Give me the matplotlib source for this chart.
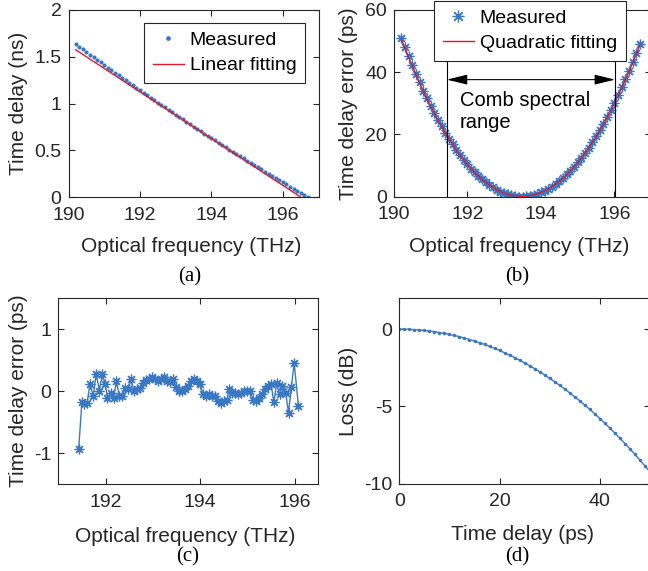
import matplotlib
matplotlib.use('Agg')
import matplotlib.pyplot as plt
import numpy as np

# (a) measured time delay vs optical frequency
freq_a = [190.2, 190.3, 190.4, 190.5, 190.6, 190.7, 190.8, 190.9, 191.0, 191.1,
          191.2, 191.3, 191.4, 191.5, 191.6, 191.7, 191.8, 191.9, 192.0, 192.1,
          192.2, 192.3, 192.4, 192.5, 192.6, 192.7, 192.8, 192.9, 193.0, 193.1,
          193.2, 193.3, 193.4, 193.5, 193.6, 193.7, 193.8, 193.9, 194.0, 194.1,
          194.2, 194.3, 194.4, 194.5, 194.6, 194.7, 194.8, 194.9, 195.0, 195.1,
          195.2, 195.3, 195.4, 195.5, 195.6, 195.7, 195.8, 195.9, 196.0, 196.1,
          196.2, 196.3, 196.4, 196.5, 196.6, 196.7]
delay_meas = [1.634, 1.606, 1.578, 1.550, 1.522, 1.494, 1.466, 1.439, 1.411, 1.384,
              1.357, 1.329, 1.302, 1.275, 1.248, 1.221, 1.195, 1.168, 1.141, 1.115,
              1.088, 1.062, 1.036, 1.010, 0.984, 0.958, 0.932, 0.906, 0.881, 0.855,
              0.830, 0.805, 0.779, 0.754, 0.729, 0.704, 0.679, 0.655, 0.630, 0.605,
              0.581, 0.557, 0.532, 0.508, 0.484, 0.460, 0.436, 0.412, 0.389, 0.365,
              0.341, 0.318, 0.295, 0.271, 0.248, 0.225, 0.202, 0.179, 0.157, 0.134,
              0.111, 0.089, 0.066, 0.044, 0.022, 0.000]
freq_lin = [190.2, 196.5]
delay_lin = [1.575, 0.0]

# (b) time delay error (ps) and quadratic fit
err_meas = [51.1, 48.0, 45.1, 42.2, 39.4, 36.7, 34.1, 31.6, 29.2, 26.9,
            24.7, 22.6, 20.5, 18.6, 16.8, 15.0, 13.4, 11.9, 10.4, 9.0,
            7.8, 6.6, 5.5, 4.6, 3.7, 2.9, 2.2, 1.6, 1.1, 0.7,
            0.4, 0.2, 0.0, 0.0, 0.1, 0.2, 0.5, 0.8, 1.3, 1.8,
            2.5, 3.2, 4.0, 4.9, 6.0, 7.1, 8.3, 9.6, 11.0, 12.5,
            14.1, 15.7, 17.5, 19.4, 21.3, 23.4, 25.6, 27.8, 30.2, 32.6,
            35.1, 37.8, 40.5, 43.3, 46.2, 49.2]
err_fit = [50.6, 47.7, 44.8, 42.0, 39.2, 36.5, 33.9, 31.4, 29.0, 26.7,
           24.5, 22.4, 20.4, 18.5, 16.7, 14.9, 13.3, 11.8, 10.3, 9.0,
           7.7, 6.6, 5.5, 4.5, 3.7, 2.9, 2.2, 1.6, 1.1, 0.7,
           0.4, 0.2, 0.1, 0.0, 0.1, 0.3, 0.5, 0.9, 1.3, 1.8,
           2.5, 3.2, 4.0, 4.9, 5.9, 7.0, 8.2, 9.5, 10.9, 12.4,
           14.0, 15.6, 17.4, 19.2, 21.2, 23.2, 25.4, 27.6, 30.0, 32.4,
           34.9, 37.5, 40.2, 43.0, 45.9, 48.8]
comb_range = [191.44, 196.02]
arrow_y = 37.6
vline_top = 50

# (c) residual time delay error within the comb range
freq_c = [191.43, 191.50, 191.55, 191.61, 191.67, 191.74, 191.80, 191.87, 191.93, 191.99,
          192.04, 192.11, 192.17, 192.23, 192.29, 192.35, 192.42, 192.48, 192.54, 192.60,
          192.66, 192.73, 192.79, 192.85, 192.92, 192.98, 193.04, 193.11, 193.17, 193.23,
          193.30, 193.36, 193.43, 193.49, 193.55, 193.62, 193.68, 193.74, 193.81, 193.87,
          193.93, 194.00, 194.06, 194.12, 194.19, 194.25, 194.31, 194.38, 194.44, 194.50,
          194.57, 194.61, 194.67, 194.74, 194.80, 194.86, 194.93, 194.99, 195.06, 195.12,
          195.18, 195.25, 195.31, 195.38, 195.44, 195.50, 195.56, 195.62, 195.68, 195.74,
          195.81, 195.87, 195.93, 195.99, 196.08]
err_c = [-0.94, -0.17, -0.21, -0.19, 0.12, -0.08, 0.28, 0.01, 0.28, 0.12,
         -0.11, -0.03, -0.11, 0.16, -0.08, -0.08, 0.05, 0.03, 0.19, 0.00,
         0.03, 0.05, 0.13, 0.18, 0.19, 0.23, 0.20, 0.16, 0.20, 0.23,
         0.17, 0.14, 0.19, 0.07, 0.00, 0.00, 0.03, 0.09, 0.16, 0.19,
         0.16, 0.11, -0.04, -0.08, -0.05, -0.08, -0.08, -0.16, -0.19, -0.16,
         -0.14, 0.03, -0.03, -0.03, -0.04, -0.03, 0.00, 0.01, 0.01, -0.14,
         -0.16, -0.11, -0.05, 0.03, 0.08, 0.12, -0.18, 0.13, -0.05, 0.08,
         -0.03, -0.35, 0.07, 0.45, -0.24]

# (d) loss vs time delay
delay_d = list(range(0, 51))
loss_d = [0.00, 0.00, -0.01, -0.03, -0.05, -0.08, -0.12, -0.16, -0.22, -0.27,
          -0.34, -0.41, -0.49, -0.58, -0.67, -0.77, -0.88, -0.99, -1.12, -1.25,
          -1.38, -1.53, -1.68, -1.84, -2.01, -2.19, -2.37, -2.56, -2.76, -2.97,
          -3.19, -3.41, -3.64, -3.88, -4.13, -4.39, -4.65, -4.92, -5.20, -5.49,
          -5.79, -6.10, -6.41, -6.74, -7.07, -7.41, -7.76, -8.12, -8.49, -8.86,
          -9.25]

blue = '#3a78c3'
red = '#e3172d'
gray = '#262626'
asterisk = (8, 2, 0)

plt.rcParams['font.family'] = 'Liberation Sans'
plt.rcParams['font.size'] = 14
plt.rcParams['axes.labelsize'] = 15
plt.rcParams['legend.fontsize'] = 14
plt.rcParams['axes.unicode_minus'] = False
plt.rcParams['axes.edgecolor'] = gray
plt.rcParams['axes.linewidth'] = 0.8
plt.rcParams['xtick.color'] = gray
plt.rcParams['ytick.color'] = gray
plt.rcParams['axes.labelcolor'] = gray

W, H = 648, 571
fig = plt.figure(figsize=(W / 100, H / 100), dpi=100)


def px_axes(left, top, right, bottom):
    return fig.add_axes([left / W, 1 - bottom / H, (right - left) / W, (bottom - top) / H])


def matlab_style(ax):
    ax.tick_params(direction='in', length=4, width=0.8, top=True, right=True)
    ax.tick_params(axis='x', pad=7)
    ax.tick_params(axis='y', pad=5)


def matlab_legend(ax, loc, anchor):
    leg = ax.legend(loc=loc, bbox_to_anchor=anchor, bbox_transform=fig.transFigure,
                    borderaxespad=0, fancybox=False, edgecolor=gray, framealpha=1,
                    handlelength=1.6, handletextpad=0.3, labelspacing=0.4,
                    borderpad=0.45, markerscale=1.2)
    leg.get_frame().set_linewidth(0.8)


# ---- (a)
ax1 = px_axes(68.5, 10, 318.5, 197)
ax1.plot(freq_a, delay_meas, '.', color=blue, markersize=4, label='Measured')
ax1.plot(freq_lin, delay_lin, '-', color=red, linewidth=1, label='Linear fitting')
ax1.set_xlim(190, 197)
ax1.set_ylim(0, 2)
ax1.set_xticks([190, 192, 194, 196])
ax1.set_yticks([0, 0.5, 1, 1.5, 2])
ax1.set_yticklabels(['0', '0.5', '1', '1.5', '2'])
ax1.set_xlabel('Optical frequency (THz)')
ax1.set_ylabel('Time delay (ns)')
ax1.xaxis.set_label_coords(0.49, -0.215)
ax1.yaxis.set_label_coords(-0.162, 0.5)
matlab_style(ax1)
matlab_legend(ax1, 'upper right', (305 / W, 1 - 22.7 / H))

# ---- (b)
ax2 = px_axes(394, 10, 651, 196.5)
ax2.plot(freq_a, err_meas, linestyle='none', marker=asterisk, markersize=7,
         markeredgewidth=0.9, color=blue, label='Measured')
ax2.plot(freq_a, err_fit, '-', color=red, linewidth=1, label='Quadratic fitting')
for f in comb_range:
    ax2.plot([f, f], [0, vline_top], '-', color='black', linewidth=0.8)
ax2.annotate('', xy=(comb_range[0], arrow_y), xytext=(comb_range[1], arrow_y),
             arrowprops=dict(arrowstyle='<|-|>,head_length=0.9,head_width=0.22',
                             color='black', linewidth=0.8, shrinkA=0, shrinkB=0))
ax2.text(191.8, 34, 'Comb spectral\nrange', ha='left', va='top', color='black',
         fontsize=14.5, linespacing=1.2)
ax2.set_xlim(190, 197)
ax2.set_ylim(0, 60)
ax2.set_xticks([190, 192, 194, 196])
ax2.set_yticks([0, 20, 40, 60])
ax2.set_xlabel('Optical frequency (THz)')
ax2.set_ylabel('Time delay error (ps)')
ax2.xaxis.set_label_coords(0.486, -0.215)
ax2.yaxis.set_label_coords(-0.14, 0.5)
matlab_style(ax2)
matlab_legend(ax2, 'upper left', (434 / W, 1 - 0.5 / H))

# ---- (c)
ax3 = px_axes(58.3, 298.3, 318.3, 484)
ax3.plot(freq_c, err_c, '-', color=blue, linewidth=1, marker=asterisk,
         markersize=7, markeredgewidth=0.9)
ax3.set_xlim(191, 196.5)
ax3.set_ylim(-1.5, 1.5)
ax3.set_xticks([192, 194, 196])
ax3.set_yticks([-1, 0, 1])
ax3.set_xlabel('Optical frequency (THz)')
ax3.set_ylabel('Time delay error (ps)')
ax3.xaxis.set_label_coords(0.487, -0.23)
ax3.yaxis.set_label_coords(-0.117, 0.5)
matlab_style(ax3)

# ---- (d)
ax4 = px_axes(399.3, 298.3, 650, 483.5)
ax4.plot(delay_d, loss_d, '-', color=blue, linewidth=1, marker='.', markersize=3)
ax4.set_xlim(0, 50)
ax4.set_ylim(-10, 2)
ax4.set_xticks([0, 20, 40])
ax4.set_yticks([-10, -5, 0])
ax4.set_xlabel('Time delay (ps)')
ax4.set_ylabel('Loss (dB)')
ax4.xaxis.set_label_coords(0.49, -0.224)
ax4.yaxis.set_label_coords(-0.165, 0.5)
matlab_style(ax4)

# panel labels
for lab, x, y in [('(a)', 190, 277), ('(b)', 517, 277), ('(c)', 188, 557), ('(d)', 517, 557)]:
    fig.text(x / W, 1 - y / H, lab, ha='center', va='center', fontsize=15,
             family='Liberation Serif', color='black')

fig.savefig('out.png', dpi=100)
